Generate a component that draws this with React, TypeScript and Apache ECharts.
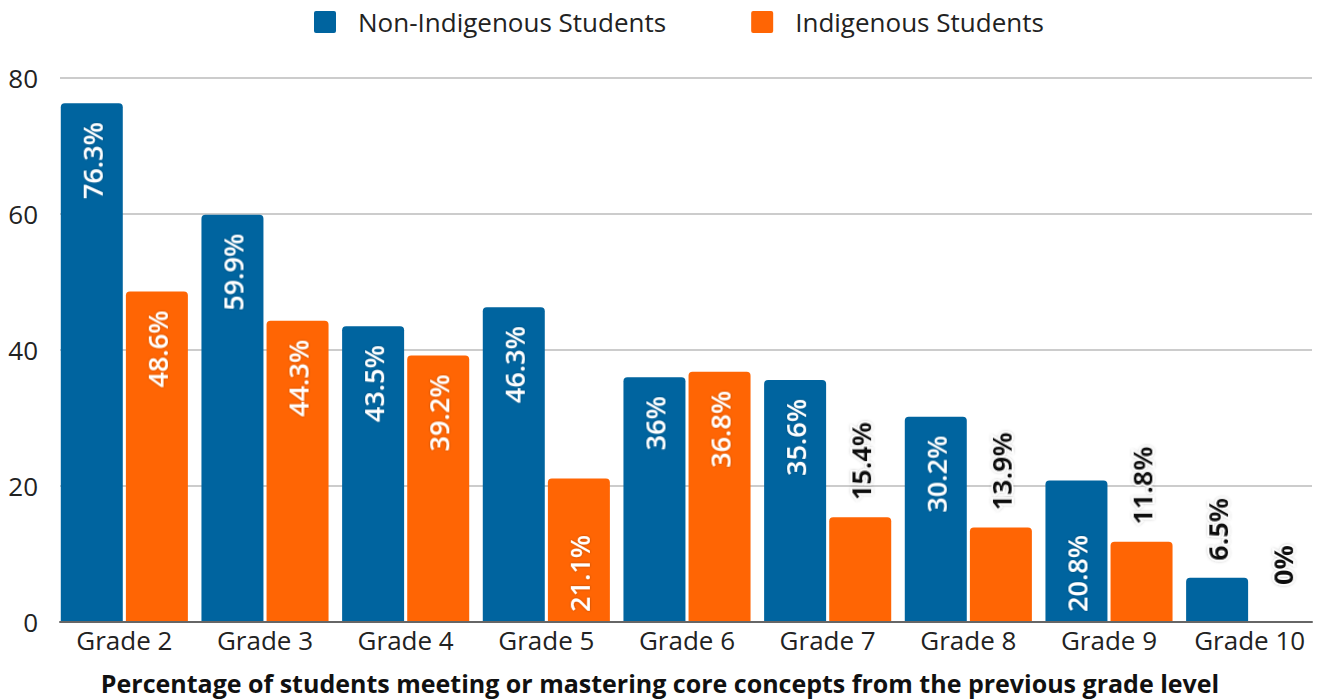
import React, { useEffect, useRef } from "react";
import * as echarts from "echarts";

const categories = ["Grade 2", "Grade 3", "Grade 4", "Grade 5", "Grade 6", "Grade 7", "Grade 8", "Grade 9", "Grade 10"];
const nonIndigenous = [76.3, 59.9, 43.5, 46.3, 36, 35.6, 30.2, 20.8, 6.5];
const indigenous = [48.6, 44.3, 39.2, 21.1, 36.8, 15.4, 13.9, 11.8, 0];
const yTicks = [0, 20, 40, 60, 80];
const seriesNames = ["Non-Indigenous Students", "Indigenous Students"];
const titleText = "Percentage of students meeting or mastering core concepts from the previous grade level";

const BLUE = "#00649f";
const ORANGE = "#ff6504";
const FONT = "Open Sans";

function labelFor(v: number) {
  const base = {
    show: true,
    rotate: 90,
    fontFamily: FONT,
    fontSize: 27,
    formatter: (p: any) => `${p.value}%`,
  };
  if (v >= 25) {
    return {
      ...base,
      position: "insideTop",
      align: "right",
      verticalAlign: "middle",
      distance: 19,
      color: "#fff",
      fontWeight: 600,
      textShadowColor: "rgba(0,0,0,0.35)",
      textShadowBlur: 2,
    };
  }
  if (v >= 20) {
    return {
      ...base,
      position: "insideBottom",
      align: "left",
      verticalAlign: "middle",
      distance: 10,
      color: "#fff",
      fontWeight: 600,
      textShadowColor: "rgba(0,0,0,0.35)",
      textShadowBlur: 2,
    };
  }
  return {
    ...base,
    position: "top",
    align: "left",
    verticalAlign: "middle",
    distance: v === 0 ? 37 : 17,
    color: "#111",
    fontWeight: 700,
    textBorderColor: "#fff",
    textBorderWidth: 3,
    textShadowColor: "rgba(0,0,0,0.25)",
    textShadowBlur: 3,
  };
}

export default function App() {
  const ref = useRef<HTMLDivElement>(null);
  useEffect(() => {
    document.body.style.margin = "0";
    const chart = echarts.init(ref.current!, null, { renderer: "svg" });
    const mk = (vals: number[], color: string, name: string) => ({
      type: "bar",
      name,
      xAxisIndex: 1,
      yAxisIndex: 1,
      barWidth: 62,
      barGap: "5%",
      itemStyle: { color, borderRadius: [4, 4, 0, 0] },
      data: vals.map((v) => ({ value: v, label: labelFor(v) })),
    });
    chart.setOption({
      animation: false,
      backgroundColor: "#fff",
      title: {
        text: titleText,
        left: "center",
        top: 668,
        padding: 0,
        textStyle: { fontFamily: FONT, fontSize: 25, lineHeight: 30, fontWeight: 700, color: "#111" },
      },
      legend: {
        left: 309,
        top: 4,
        itemWidth: 22,
        itemHeight: 22,
        itemGap: 85,
        icon: "path://M2,0 H20 Q22,0 22,2 V20 Q22,22 20,22 H2 Q0,22 0,20 V2 Q0,0 2,0 Z",
        textStyle: { fontFamily: FONT, fontSize: 26, color: "#222", padding: [0, 0, 0, 17] },
        data: seriesNames,
      },
      grid: [
        { left: 60, right: 8, top: 78, bottom: 78 },
        { left: 54, width: 1268, top: 78, bottom: 78 },
      ],
      xAxis: [
        {
          type: "category",
          gridIndex: 0,
          data: categories,
          axisLine: { show: true, lineStyle: { color: "#666", width: 2 } },
          axisTick: { show: false },
          axisLabel: { show: false },
          z: 5,
        },
        {
          type: "category",
          gridIndex: 1,
          data: categories,
          axisLine: { show: false },
          axisTick: { show: false },
          axisLabel: { fontFamily: FONT, fontSize: 26, color: "#222", margin: 5, interval: 0 },
        },
      ],
      yAxis: [
        {
          type: "value",
          gridIndex: 0,
          min: yTicks[0],
          max: yTicks[yTicks.length - 1],
          interval: 20,
          axisLabel: { fontFamily: FONT, fontSize: 26, color: "#222", margin: 22 },
          splitLine: { lineStyle: { color: "#cccccc", width: 2 } },
          axisLine: { show: false },
          axisTick: { show: false },
        },
        {
          type: "value",
          gridIndex: 1,
          min: yTicks[0],
          max: yTicks[yTicks.length - 1],
          interval: 20,
          show: false,
        },
      ],
      series: [mk(nonIndigenous, BLUE, seriesNames[0]), mk(indigenous, ORANGE, seriesNames[1])],
    });
    return () => chart.dispose();
  }, []);
  return <div ref={ref} style={{ width: 1320, height: 700 }} />;
}
